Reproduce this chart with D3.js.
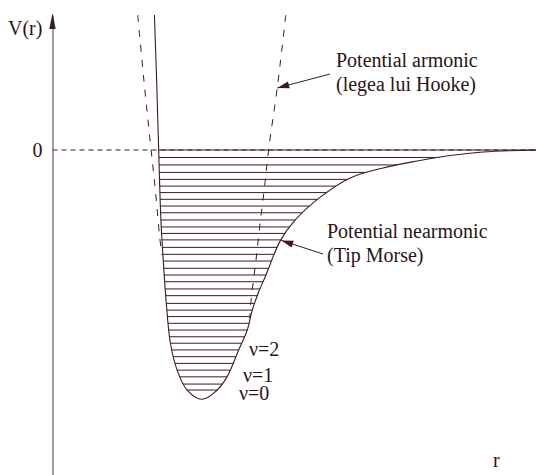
<!DOCTYPE html>
<html>
<head>
<meta charset="utf-8">
<script src="https://cdn.jsdelivr.net/npm/d3@7"></script>
<style>
  html, body { margin: 0; padding: 0; background: #ffffff; }
  svg { display: block; }
</style>
</head>
<body>
<svg id="chart" width="536" height="475"></svg>
<script>
// ---- data (r in arbitrary length units, V in units of well depth) ----
const morseR = [1.054, 1.080, 1.098, 1.121, 1.147, 1.178, 1.219, 1.288, 1.392, 1.546,
                1.684, 1.805, 1.925, 2.014, 2.066, 2.128, 2.200, 2.355, 2.510, 2.769,
                3.079, 3.419, 3.771, 4.112, 4.452, 5.000];
const morseV = [0.542, 0.241, 0.000, -0.281, -0.454, -0.622, -0.775, -0.883, -0.964, -1.001,
                -0.971, -0.911, -0.803, -0.723, -0.643, -0.574, -0.509, -0.365, -0.281, -0.189,
                -0.112, -0.072, -0.044, -0.022, -0.008, 0.000];

const harmLeftR  = [0.881, 0.945, 1.012, 1.064, 1.108, 1.131];
const harmLeftV  = [0.542, 0.281, 0.028, -0.161, -0.349, -0.422];
const harmRightR = [2.412, 2.324, 2.237, 2.195, 2.144, 2.102, 2.056, 2.040];
const harmRightV = [0.542, 0.249, 0.008, -0.141, -0.305, -0.450, -0.594, -0.675];

const levelsV = [0, -0.030, -0.060, -0.090, -0.118, -0.145, -0.171, -0.198, -0.225, -0.252,
                 -0.281, -0.309, -0.335, -0.361, -0.391, -0.419, -0.446, -0.475, -0.502, -0.529,
                 -0.558, -0.585, -0.616, -0.643, -0.669, -0.696, -0.723, -0.750, -0.776, -0.803,
                 -0.830, -0.857, -0.884, -0.911, -0.940, -0.964];

const yTickValues = [0];
const yTickLabels = ["0"];
const axisTitleY = "V(r)";
const axisTitleX = "r";
const harmLabel = ["Potential armonic", "(legea lui Hooke)"];
const morseLabel = ["Potential nearmonic", "(Tip Morse)"];
const levelLabels = ["ν=2", "ν=1", "ν=0"];

// ---- layout ----
const W = 536, H = 475;
const lineCol = "#3b1c1c";
const textCol = "#2a1414";
const FONT = "'Liberation Serif'";
const svg = d3.select("#chart");

const x = d3.scaleLinear().domain([0, 5]).range([52.5, 536]);
const y = d3.scaleLinear().domain([-1.3052, 0.5422]).range([475, 15]);

const line = d3.line().x(d => x(d[0])).y(d => y(d[1])).curve(d3.curveCatmullRom.alpha(0.5));

const morsePts = morseR.map((r, i) => [r, morseV[i]]);
const harmL = harmLeftR.map((r, i) => [r, harmLeftV[i]]);
const harmR = harmRightR.map((r, i) => [r, harmRightV[i]]);

// clip region = inside of the Morse well
const defs = svg.append("defs");
defs.append("clipPath").attr("id", "well")
  .append("path").attr("d", line(morsePts) + "Z");

// hatch (vibrational levels)
svg.append("g").attr("clip-path", "url(#well)")
  .selectAll("line").data(levelsV.slice(1)).join("line")
  .attr("x1", x(0.9)).attr("x2", W)
  .attr("y1", d => y(d)).attr("y2", d => y(d))
  .attr("stroke", "#3b1c1c").attr("stroke-width", 1);

// zero dissociation level (solid from the wall outward)
svg.append("line")
  .attr("x1", x(morseR[2])).attr("x2", W)
  .attr("y1", y(levelsV[0])).attr("y2", y(levelsV[0]))
  .attr("stroke", lineCol).attr("stroke-width", 1);

// dashed V=0 reference line
svg.append("line")
  .attr("x1", x(0)).attr("x2", W)
  .attr("y1", y(0)).attr("y2", y(0))
  .attr("stroke", lineCol).attr("stroke-width", 1)
  .attr("stroke-dasharray", "5,4");

// harmonic potential (dashed)
[harmL, harmR].forEach(pts => {
  svg.append("path").attr("d", line(pts))
    .attr("fill", "none").attr("stroke", lineCol).attr("stroke-width", 1)
    .attr("stroke-dasharray", "7,8");
});

// Morse potential
svg.append("path").attr("d", line(morsePts))
  .attr("fill", "none").attr("stroke", lineCol).attr("stroke-width", 1.1);

// y axis
const yAxis = d3.axisLeft(y).tickValues(yTickValues).tickFormat((d, i) => yTickLabels[i])
  .tickSize(0).tickSizeOuter(0).tickPadding(10);
const gy = svg.append("g").attr("transform", `translate(${x(0)},0)`).call(yAxis);
gy.select(".domain").attr("stroke", "#6e5656").attr("stroke-width", 1.2);
gy.selectAll(".tick text")
  .style("font-family", FONT).style("font-size", "20px").style("fill", textCol);

// axis arrow
const ax = x(0);
svg.append("path")
  .attr("d", `M${ax},${y(0.5422) - 2} L${ax - 3.2},${y(0.5422) + 14} L${ax + 3.2},${y(0.5422) + 14}Z`)
  .attr("fill", "#3b1c1c");

function label(tx, ty, t) {
  svg.append("text").attr("x", tx).attr("y", ty)
    .style("font-family", FONT).style("font-size", "20px").style("fill", textCol).text(t);
}

// axis titles
label(8, 35, axisTitleY);
label(493, 467, axisTitleX);

// annotations
function arrow(x1, y1, x2, y2) {
  svg.append("line").attr("x1", x1).attr("y1", y1).attr("x2", x2).attr("y2", y2)
    .attr("stroke", lineCol).attr("stroke-width", 1);
  const a = Math.atan2(y2 - y1, x2 - x1), L = 12, w = 3.5;
  const bx = x2 - L * Math.cos(a), by = y2 - L * Math.sin(a);
  const px = -Math.sin(a) * w, py = Math.cos(a) * w;
  svg.append("path")
    .attr("d", `M${x2},${y2}L${bx + px},${by + py}L${bx - px},${by - py}Z`)
    .attr("fill", lineCol);
}

label(336, 66.5, harmLabel[0]);
label(336, 90.5, harmLabel[1]);
arrow(330, 74, x(2.324), y(0.249));

label(327, 238.3, morseLabel[0]);
label(327, 261.7, morseLabel[1]);
arrow(323, 254, x(2.366), y(-0.363));

const lvlPos = [[249, 356], [243, 381.5], [239, 400]];
levelLabels.forEach((t, i) => label(lvlPos[i][0], lvlPos[i][1], t));
</script>
</body>
</html>
